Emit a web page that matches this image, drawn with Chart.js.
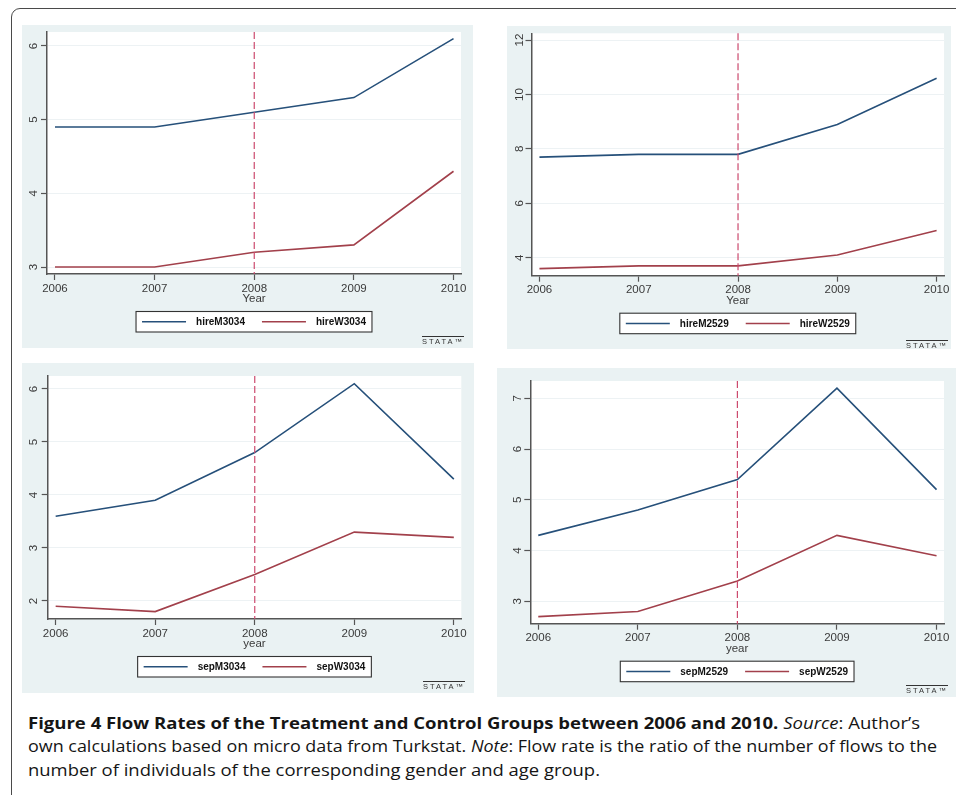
<!DOCTYPE html>
<html><head><meta charset="utf-8">
<script src="https://cdn.jsdelivr.net/npm/chart.js@4.4.1/dist/chart.umd.min.js"></script>
<style>
html,body{margin:0;padding:0;background:#fff;}
body{width:956px;height:795px;position:relative;overflow:hidden;}
#frame{position:absolute;left:11px;top:8px;width:1000px;height:900px;border:1.3px solid #4a4a4a;border-radius:9px;box-sizing:border-box;}
.panel{position:absolute;background:#eaf2f3;}
.panel canvas{position:absolute;left:0;top:0;}
.logo{position:absolute;font-family:'Liberation Sans',Arial,sans-serif;font-size:7.5px;letter-spacing:2px;color:#333;border-top:1px solid #333;line-height:8px;padding-top:0.5px;white-space:nowrap;}
.cap{position:absolute;left:28px;white-space:nowrap;font-family:'Open Sans',sans-serif;font-size:16.5px;line-height:20px;color:#151515;transform-origin:0 0;}
</style></head>
<body>
<div id="frame"></div>
<div class="panel" style="left:22px;top:25px;width:451px;height:323px"><canvas id="c1" width="451" height="323"></canvas></div>
<div class="panel" style="left:507px;top:26px;width:444px;height:323px"><canvas id="c2" width="444" height="323"></canvas></div>
<div class="panel" style="left:22px;top:363px;width:452px;height:330px"><canvas id="c3" width="452" height="330"></canvas></div>
<div class="panel" style="left:497px;top:368px;width:459px;height:329px"><canvas id="c4" width="459" height="329"></canvas></div>
<div class="logo" style="left:422px;top:336px">STATA™</div>
<div class="logo" style="left:906px;top:340px">STATA™</div>
<div class="logo" style="left:423px;top:681px">STATA™</div>
<div class="logo" style="left:906px;top:685px">STATA™</div>
<div class="cap" id="cap1" style="top:712.6px"><b>Figure 4 Flow Rates of the Treatment and Control Groups between 2006 and 2010.</b> <i>Source</i>: Author’s</div>
<div class="cap" id="cap2" style="top:736.1px">own calculations based on micro data from Turkstat. <i>Note</i>: Flow rate is the ratio of the number of flows to the</div>
<div class="cap" id="cap3" style="top:759.6px">number of individuals of the corresponding gender and age group.</div>
<script>
// ---- data ----
const years = [2006, 2007, 2008, 2009, 2010];
const hireM3034 = [4.9, 4.9, 5.1, 5.3, 6.1];
const hireW3034 = [3.0, 3.0, 3.2, 3.3, 4.3];
const hireM2529 = [7.7, 7.8, 7.8, 8.9, 10.6];
const hireW2529 = [3.6, 3.7, 3.7, 4.1, 5.0];
const sepM3034 = [3.6, 3.9, 4.8, 6.1, 4.3];
const sepW3034 = [1.9, 1.8, 2.5, 3.3, 3.2];
const sepM2529 = [4.3, 4.8, 5.4, 7.2, 5.2];
const sepW2529 = [2.7, 2.8, 3.4, 4.3, 3.9];
const yTicks1 = [3, 4, 5, 6];
const yTicks2 = [4, 6, 8, 10, 12];
const yTicks3 = [2, 3, 4, 5, 6];
const yTicks4 = [3, 4, 5, 6, 7];
const xTitles = ['Year', 'Year', 'year', 'year'];
const policyYear = 2008;

// ---- styling / layout ----
const FONT = '"Liberation Sans", Arial, Helvetica, sans-serif';
Chart.defaults.font.family = FONT;
const NAVY = '#26507a', MAROON = '#a2404b';
const TICKCOL = '#3a3a3a';

const panels = [
  {id:'c1', names:['hireM3034','hireW3034'], vals:[hireM3034,hireW3034], yTicks:yTicks1, yMin:2.905, yMax:6.19, title:xTitles[0], pad:{left:0,top:7,right:12,bottom:42}, yW:25, lblOff:14},
  {id:'c2', names:['hireM2529','hireW2529'], vals:[hireM2529,hireW2529], yTicks:yTicks2, yMin:3.34, yMax:12.25, title:xTitles[1], pad:{left:0,top:7.3,right:5.3,bottom:41.3}, yW:24.5, lblOff:13},
  {id:'c3', names:['sepM3034','sepW3034'], vals:[sepM3034,sepW3034], yTicks:yTicks3, yMin:1.66, yMax:6.245, title:xTitles[2], pad:{left:0,top:13,right:12.7,bottom:42}, yW:25.7, lblOff:14.4},
  {id:'c4', names:['sepM2529','sepW2529'], vals:[sepM2529,sepW2529], yTicks:yTicks4, yMin:2.56, yMax:7.34, title:xTitles[3], pad:{left:0,top:13,right:12,bottom:41.3}, yW:33.3, lblOff:13}
];

const stataPlugin = {
  id: 'stata',
  beforeDraw(chart) {
    const {ctx, chartArea: a} = chart;
    ctx.save(); ctx.fillStyle = '#ffffff'; ctx.fillRect(a.left, a.top, a.width, a.height); ctx.restore();
  },
  afterDatasetsDraw(chart, args, opts) {
    const {ctx, chartArea: a, scales: {x}} = chart;
    const px = x.getPixelForValue(opts.xline);
    ctx.save();
    ctx.strokeStyle = '#cc4a6e'; ctx.lineWidth = 1.2; ctx.setLineDash([7, 3]);
    ctx.beginPath(); ctx.moveTo(px, a.top); ctx.lineTo(px, a.bottom); ctx.stroke();
    ctx.restore();
  },
  afterDraw(chart, args, opts) {
    const {ctx, chartArea: a, scales: {y}} = chart;
    // rotated y tick labels
    ctx.save();
    ctx.fillStyle = TICKCOL; ctx.font = '11.5px ' + FONT;
    ctx.textAlign = 'center'; ctx.textBaseline = 'middle';
    y.ticks.forEach(t => {
      const py = y.getPixelForValue(t.value);
      ctx.save(); ctx.translate(a.left - opts.labelOffset, py); ctx.rotate(-Math.PI / 2);
      ctx.fillText(String(t.value), 0, 1); ctx.restore();
    });
    ctx.restore();
    // boxed legend
    const ds = chart.data.datasets;
    ctx.save();
    ctx.font = 'bold 10px ' + FONT;
    const ws = ds.map(d => ctx.measureText(d.label).width);
    const padL = 6, lineW = 44, gapT = 10, gapI = 17;
    const total = padL * 2 + ws.reduce((s, w) => s + lineW + gapT + w, 0) + gapI * (ds.length - 1);
    const cx = (a.left + a.right) / 2;
    const x0 = cx - total / 2, top = a.bottom + 37.5, h = 20.5, cy = top + h / 2;
    ctx.fillStyle = '#fff'; ctx.fillRect(x0, top, total, h);
    ctx.strokeStyle = '#333'; ctx.lineWidth = 1.1; ctx.strokeRect(x0, top, total, h);
    let x = x0 + padL;
    ds.forEach((d, i) => {
      ctx.strokeStyle = d.borderColor; ctx.lineWidth = d.borderWidth;
      ctx.beginPath(); ctx.moveTo(x, cy); ctx.lineTo(x + lineW, cy); ctx.stroke();
      x += lineW + gapT;
      ctx.fillStyle = '#111'; ctx.textAlign = 'left'; ctx.textBaseline = 'middle';
      ctx.fillText(d.label, x, cy + 0.5);
      x += ws[i] + gapI;
    });
    ctx.restore();
  }
};

panels.forEach(p => {
  new Chart(document.getElementById(p.id), {
    type: 'line',
    data: {
      datasets: p.names.map((name, i) => ({
        label: name,
        data: years.map((yr, j) => ({x: yr, y: p.vals[i][j]})),
        borderColor: i === 0 ? NAVY : MAROON,
        borderWidth: 1.6,
        pointRadius: 0,
        tension: 0,
        fill: false
      }))
    },
    options: {
      responsive: false,
      animation: false,
      events: [],
      layout: {padding: p.pad},
      plugins: {
        legend: {display: false},
        tooltip: {enabled: false},
        stata: {xline: policyYear, labelOffset: p.lblOff}
      },
      scales: {
        x: {
          type: 'linear', min: 2005.92, max: 2010.075,
          afterBuildTicks: s => { s.ticks = years.map(v => ({value: v})); },
          afterFit: s => { s.height = 32; },
          ticks: {callback: v => String(v), color: TICKCOL, font: {size: 11.5}, padding: 1.5, maxRotation: 0, autoSkip: false},
          grid: {drawOnChartArea: false, drawTicks: true, tickLength: 6, tickColor: '#555', tickWidth: 1.2},
          border: {color: '#555', width: 1.5},
          title: {display: true, text: p.title, color: TICKCOL, font: {size: 11.5}, padding: {top: 0, bottom: 0}}
        },
        y: {
          type: 'linear', min: p.yMin, max: p.yMax,
          afterBuildTicks: s => { s.ticks = p.yTicks.map(v => ({value: v})); },
          afterFit: s => { s.width = p.yW; },
          ticks: {display: false},
          grid: {color: '#edf2f4', lineWidth: 1, drawTicks: true, tickLength: 6, tickColor: '#555', tickWidth: 1.2},
          border: {color: '#555', width: 1.5}
        }
      }
    },
    plugins: [stataPlugin]
  });
});

// fit caption lines to the reference line widths
const capTargets = {cap1: 892, cap2: 909, cap3: 572};
Object.keys(capTargets).forEach(id => {
  const el = document.getElementById(id);
  const w = el.getBoundingClientRect().width;
  el.style.transform = 'scaleX(' + (capTargets[id] / w) + ')';
});
</script>
</body></html>
